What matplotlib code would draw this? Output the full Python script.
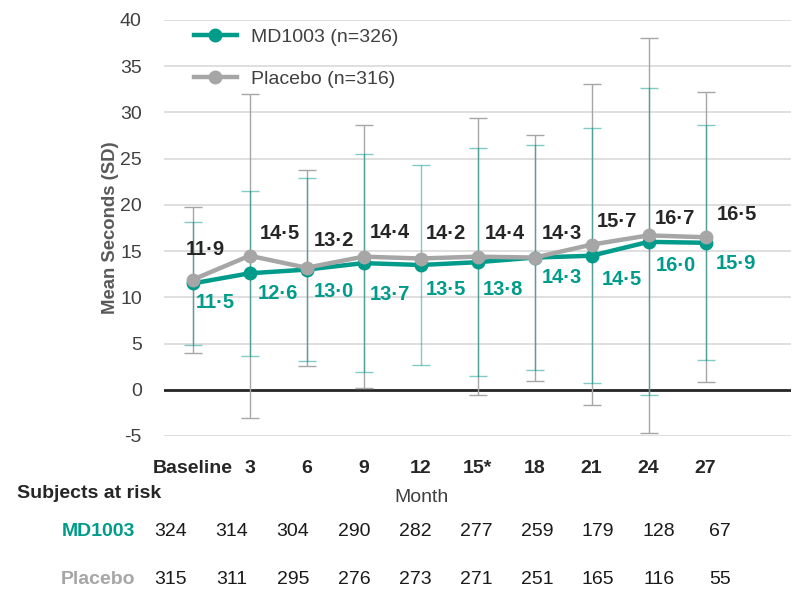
import numpy as np
import matplotlib
matplotlib.use("Agg")
import matplotlib.pyplot as plt

plt.rcParams['font.family'] = ['Liberation Sans', 'DejaVu Sans']
plt.rcParams['axes.unicode_minus'] = False

# data
months = ["Baseline", "3", "6", "9", "12", "15*", "18", "21", "24", "27"]
md_mean = [11.5, 12.6, 13.0, 13.7, 13.5, 13.8, 14.3, 14.5, 16.0, 15.9]
md_sd = [6.7, 8.9, 9.9, 11.8, 10.8, 12.3, 12.2, 13.8, 16.6, 12.7]
pl_mean = [11.9, 14.5, 13.2, 14.4, 14.2, 14.4, 14.3, 15.7, 16.7, 16.5]
pl_sd = [7.9, 17.5, 10.6, 14.2, np.nan, 15.0, 13.3, 17.4, 21.4, 15.7]
md_at_risk = [324, 314, 304, 290, 282, 277, 259, 179, 128, 67]
pl_at_risk = [315, 311, 295, 276, 273, 271, 251, 165, 116, 55]

# label offsets in pixels (x, y up), placed by hand like the original
pl_off = [(13, 30), (30, 22), (27, 27), (26, 24), (25, 25), (27, 23), (27, 24), (25, 23), (26, 17), (31, 23)]
md_off = [(23, -19), (28, -20), (27, -22), (26, -31), (25, -25), (25, -27), (27, -20), (30, -24), (27, -24), (30, -21)]

TEAL = "#009B8A"
GREY = "#A6A6A6"
DARK = "#404040"

fig = plt.figure(figsize=(7.92, 5.93), dpi=100)
ax = fig.add_axes([164/792, 1 - 436/593, (791-164)/792, (436-20)/593])

x = np.arange(len(months))

# error bars first
ax.errorbar(x, pl_mean, yerr=pl_sd, fmt="none", ecolor=GREY, elinewidth=1.0,
            capsize=6.5, capthick=1.0, zorder=2)
ax.errorbar(x, md_mean, yerr=md_sd, fmt="none", ecolor=TEAL, elinewidth=1.0,
            capsize=6.5, capthick=1.0, alpha=0.5, zorder=3)

ax.plot(x, md_mean, color=TEAL, lw=3.2, marker="o", ms=9, zorder=4, label="MD1003 (n=326)")
ax.plot(x, pl_mean, color=GREY, lw=3.2, marker="o", ms=9, zorder=5, label="Placebo (n=316)")

for i in range(len(months)):
    ax.annotate(f"{pl_mean[i]:.1f}".replace(".", "\u00b7"), (x[i], pl_mean[i]),
                xytext=pl_off[i], textcoords="offset pixels", ha="center", va="center",
                fontsize=14.5, fontweight="bold", color="#262626", zorder=6)
    ax.annotate(f"{md_mean[i]:.1f}".replace(".", "\u00b7"), (x[i], md_mean[i]),
                xytext=md_off[i], textcoords="offset pixels", ha="center", va="center",
                fontsize=14.5, fontweight="bold", color=TEAL, zorder=6)

ax.set_xlim(-0.5, 10.5)
ax.set_ylim(-5, 40)
ax.set_yticks(np.arange(-5, 41, 5))
ax.yaxis.grid(True, color="#D9D9D9", lw=1.2)
ax.set_axisbelow(True)
ax.axhline(0, color="#262626", lw=2, zorder=1.5)
for s in ax.spines.values():
    s.set_visible(False)

ax.set_xticks(x)
ax.set_xticklabels(months, fontsize=14, fontweight="bold", color="#262626")
ax.tick_params(axis="x", length=0, pad=17)
ax.tick_params(axis="y", length=0, pad=16, labelsize=14, labelcolor=DARK)
ax.set_ylabel("Mean Seconds (SD)", fontsize=13.3, fontweight="bold", color="#595959", labelpad=1)

leg = ax.legend(loc="upper left", bbox_to_anchor=(0.035, 0.998), frameon=False,
                fontsize=14, handlelength=2.2, handletextpad=0.75, labelspacing=1.25,
                borderaxespad=0)
for t in leg.get_texts():
    t.set_color(DARK)

# subjects at risk table
fig.text(17/792, 1 - 493/593, "Subjects at risk", fontsize=14, fontweight="bold",
         color="#262626", ha="left", va="center")
fig.text(421/792, 1 - 498/593, "Month", fontsize=14, color=DARK, ha="center", va="center")
fig.text(135/792, 1 - 531/593, "MD1003", fontsize=14, fontweight="bold", color=TEAL,
         ha="right", va="center")
fig.text(135/792, 1 - 580/593, "Placebo", fontsize=14, fontweight="bold", color=GREY,
         ha="right", va="center")
for i in range(len(months)):
    xp = (171 + 61 * i) / 792
    fig.text(xp, 1 - 531/593, str(md_at_risk[i]), fontsize=14, color="#1a1a1a",
             ha="center", va="center")
    fig.text(xp, 1 - 580/593, str(pl_at_risk[i]), fontsize=14, color="#1a1a1a",
             ha="center", va="center")

fig.savefig("out.png", dpi=100)
